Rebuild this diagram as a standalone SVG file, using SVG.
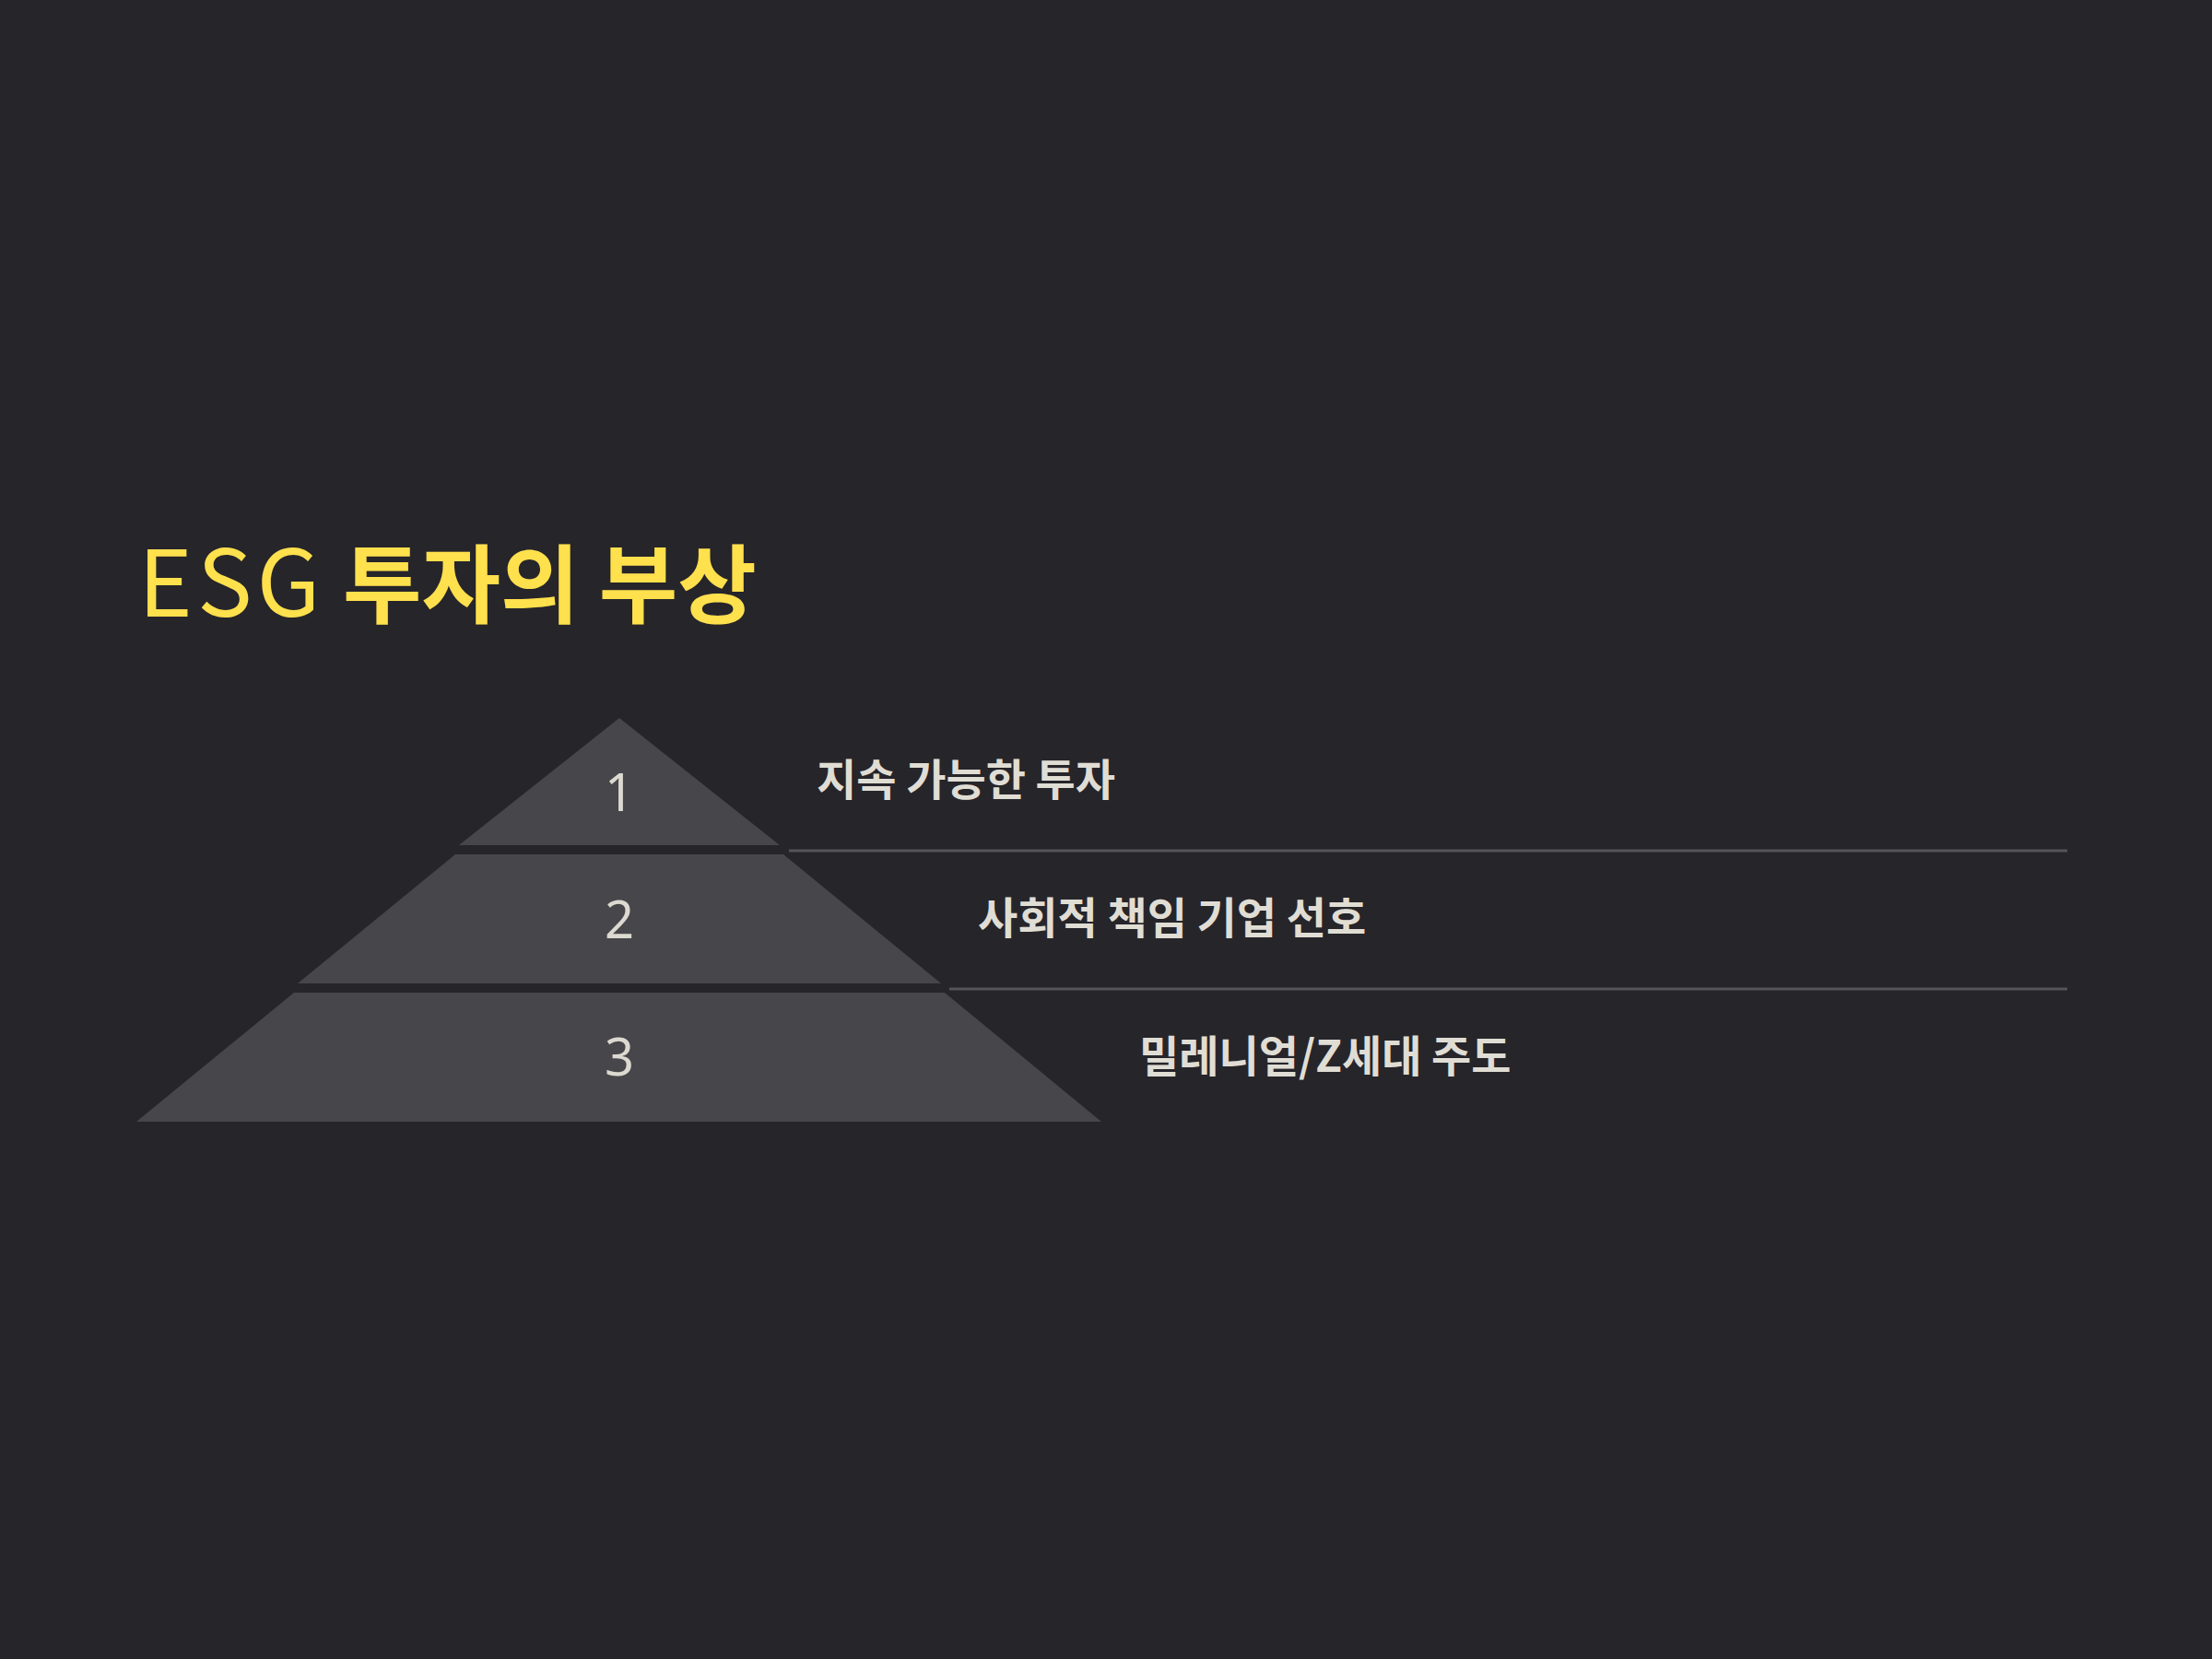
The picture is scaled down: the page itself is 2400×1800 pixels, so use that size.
<svg xmlns="http://www.w3.org/2000/svg" width="2400" height="1800" viewBox="0 0 2400 1800">
<style>
.tier{fill:#47464b}
.num{font-family:"Noto Sans","Noto Sans CJK KR",sans-serif;font-weight:400;font-size:56px;fill:#dcd9d0;text-anchor:middle}
.lbl{font-family:"Noto Sans CJK KR",sans-serif;font-weight:700;font-size:47px;fill:#e0ddd4}
.rule{stroke:#55545a;stroke-width:3;fill:none}
</style>
<rect width="2400" height="1800" fill="#26252a"/>
<g id="title">
<text x="150" y="669" font-family="'Noto Sans CJK KR',sans-serif" fill="#ffe04d"><tspan font-weight="400" font-size="100" letter-spacing="5">ESG</tspan><tspan font-weight="700" font-size="93" x="372">투자의 부상</tspan></text>
</g>
<g id="tier1">
<polygon class="tier" points="672,779 846,917 498,917"/>
<text class="num" x="672" y="880">1</text>
</g>
<g id="tier2">
<polygon class="tier" points="494,927 850,927 1021,1067 323,1067"/>
<text class="num" x="672" y="1018">2</text>
</g>
<g id="tier3">
<polygon class="tier" points="319,1077 1025,1077 1195,1217 148,1217"/>
<text class="num" x="672" y="1167">3</text>
</g>
<g id="connectors">
<line class="rule" x1="856" y1="923" x2="2243" y2="923"/>
<line class="rule" x1="1030" y1="1073" x2="2243" y2="1073"/>
</g>
<g id="label1"><text class="lbl" x="886" y="863">지속 가능한 투자</text></g>
<g id="label2"><text class="lbl" x="1061" y="1013">사회적 책임 기업 선호</text></g>
<g id="label3"><text class="lbl" x="1236" y="1163">밀레니얼/Z세대 주도</text></g>
</svg>
